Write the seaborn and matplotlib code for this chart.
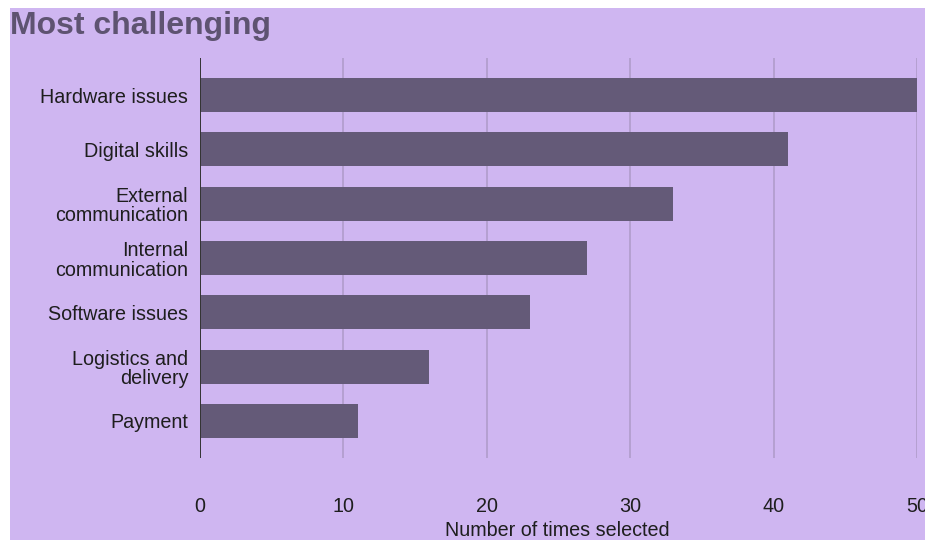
import matplotlib
matplotlib.use("Agg")
import matplotlib.pyplot as plt
from matplotlib.patches import Rectangle
import seaborn as sns
import pandas as pd

categories = [
    "Hardware issues",
    "Digital skills",
    "External\ncommunication",
    "Internal\ncommunication",
    "Software issues",
    "Logistics and\ndelivery",
    "Payment",
]
counts = [50, 41, 33, 27, 23, 16, 11]
x_ticks = [0, 10, 20, 30, 40, 50]

title = "Most challenging"
x_title = "Number of times selected"

BG = "#cfb6f1"
BAR = "#645a78"
GRID = "#ae9ac8"
TEXT = "#1e1e1e"
TITLE_C = "#5e5371"

sns.set_theme(style="white")
plt.rcParams["font.family"] = ["Liberation Sans", "DejaVu Sans"]

W, H = 925, 540
fig = plt.figure(figsize=(W / 100, H / 100), dpi=100, facecolor="white")

# lavender panel behind the chart
fig.patches.append(Rectangle((10 / W, 0), 1 - 10 / W, 1 - 8 / H,
                             transform=fig.transFigure, facecolor=BG,
                             edgecolor="none", zorder=-5))

ax = fig.add_axes([200 / W, 1 - 458 / H, (917 - 200) / W, (458 - 58) / H])
ax.set_facecolor("none")
ax.set_zorder(2)

df = pd.DataFrame({"category": categories, "count": counts})
sns.barplot(data=df, x="count", y="category", order=categories,
            color=BAR, saturation=1, width=0.63, linewidth=0,
            edgecolor="none", ax=ax, zorder=3)

ax.set_xlim(0, 50)
ax.set_ylim(6.681, -0.681)
ax.set_xticks(x_ticks)
ax.set_xticklabels([str(t) for t in x_ticks])
for t in x_ticks[1:]:
    ax.axvline(t, color=GRID, lw=1.1, zorder=1)
ax.axvline(0, color="#333333", lw=1.4, zorder=4)

for s in ax.spines.values():
    s.set_visible(False)

ax.tick_params(axis="x", length=0, pad=28, labelsize=14.2, labelcolor=TEXT)
ax.tick_params(axis="y", length=0, pad=8.5, labelsize=14.2, labelcolor=TEXT)
for lab in ax.get_yticklabels():
    lab.set_linespacing(1.05)
    lab.set_horizontalalignment("right")
    lab.set_multialignment("right")
ax.set_xlabel("")
ax.set_ylabel("")

fig.text(557 / W, 1 - 530 / H, x_title, ha="center", va="center",
         fontsize=14.2, color=TEXT)
fig.text(10 / W, 1 - 34 / H, title, ha="left", va="baseline",
         fontsize=23, fontweight="bold", color=TITLE_C)

fig.savefig("out.png", dpi=100, facecolor="white")
